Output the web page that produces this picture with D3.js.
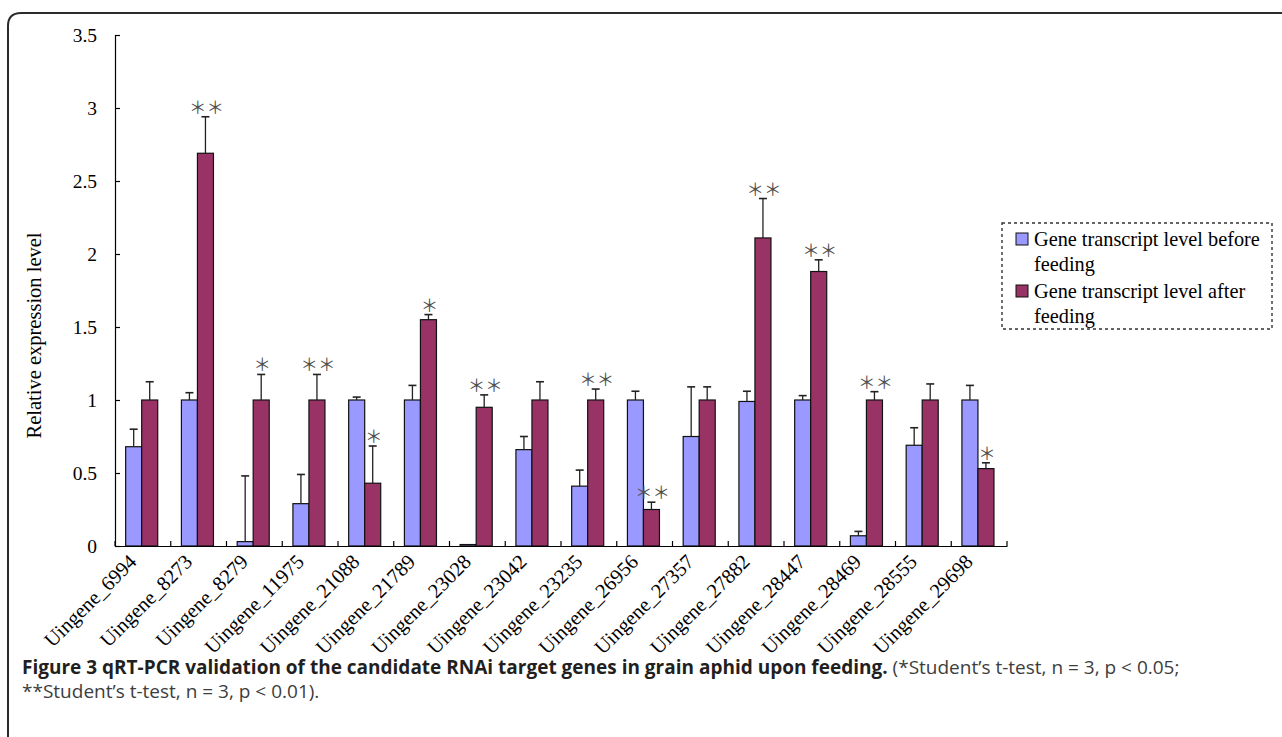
<!DOCTYPE html>
<html>
<head>
<meta charset="utf-8">
<script src="https://cdn.jsdelivr.net/npm/d3@7/dist/d3.min.js"></script>
<style>
  html, body { margin: 0; padding: 0; background: #fff; }
  svg { display: block; }
</style>
</head>
<body>
<svg id="chart" width="1282" height="737"></svg>
<script>
// ---------- data ----------
const categories = ["Uingene_6994","Uingene_8273","Uingene_8279","Uingene_11975","Uingene_21088","Uingene_21789","Uingene_23028","Uingene_23042","Uingene_23235","Uingene_26956","Uingene_27357","Uingene_27882","Uingene_28447","Uingene_28469","Uingene_28555","Uingene_29698"];
const seriesNames = ["Gene transcript level before feeding", "Gene transcript level after feeding"];
const before    = [0.68, 1.00, 0.03, 0.29, 1.00, 1.00, 0.01, 0.66, 0.41, 1.00, 0.75, 0.99, 1.00, 0.07, 0.69, 1.00];
const beforeErr = [0.12, 0.05, 0.45, 0.20, 0.02, 0.10, 0.00, 0.09, 0.11, 0.06, 0.34, 0.07, 0.03, 0.03, 0.12, 0.10];
const after     = [1.00, 2.69, 1.00, 1.00, 0.43, 1.55, 0.95, 1.00, 1.00, 0.25, 1.00, 2.11, 1.88, 1.00, 1.00, 0.53];
const afterErr  = [0.125,0.25, 0.175,0.175,0.255,0.035,0.085,0.125,0.075,0.05, 0.09, 0.27, 0.08, 0.057,0.11, 0.04];
const significance = ["", "**", "*", "**", "*", "*", "**", "", "**", "**", "", "**", "**", "**", "", "*"];
const yTicks = [0, 0.5, 1, 1.5, 2, 2.5, 3, 3.5];
const yTitle = "Relative expression level";
const legendLines = [["Gene transcript level before", "feeding"], ["Gene transcript level after", "feeding"]];
const captionBold = "Figure 3 qRT-PCR validation of the candidate RNAi target genes in grain aphid upon feeding.";
const captionNormal1 = " (*Student\u2019s t-test, n = 3, p < 0.05;";
const captionNormal2 = "**Student\u2019s t-test, n = 3, p < 0.01).";

// ---------- layout ----------
const colors = ["#9999FF", "#993366"];
const plot = { left: 115, right: 1007, top: 35, bottom: 546 };
const serif = "'Liberation Serif', 'Times New Roman', serif";

const svg = d3.select("#chart");

// frame
svg.append("path")
  .attr("d", "M8,740 L8,26 Q8,13 21,13 L1290,13")
  .attr("fill", "none").attr("stroke", "#2b2b2b").attr("stroke-width", 2);

const x = d3.scaleBand().domain(categories).range([plot.left, plot.right]).paddingInner(0).paddingOuter(0);
const xs = d3.scaleBand().domain([0, 1]).range([0, x.bandwidth()]).paddingInner(0).paddingOuter(0.74).align(0.45);
const y = d3.scaleLinear().domain([0, 3.5]).range([plot.bottom, plot.top]);

// y axis
const yAxis = d3.axisLeft(y).tickValues(yTicks).tickSize(-5).tickPadding(18)
  .tickFormat(d => String(d));
const gy = svg.append("g").attr("transform", `translate(${plot.left},0)`).call(yAxis);
gy.select(".domain").attr("stroke", "#000").attr("stroke-width", 1.2);
gy.selectAll(".tick line").attr("stroke", "#000").attr("stroke-width", 1.2);
gy.selectAll(".tick text").attr("font-family", serif).attr("font-size", 19.5).attr("fill", "#000");

// y title
svg.append("text")
  .attr("transform", `translate(41, ${(plot.top + plot.bottom) / 2 + 45}) rotate(-90)`)
  .attr("text-anchor", "middle")
  .attr("font-family", serif).attr("font-size", 20.5).attr("fill", "#000")
  .text(yTitle);

// bars
const series = [before, after];
const errs = [beforeErr, afterErr];
const groups = svg.append("g").selectAll("g").data(categories).join("g")
  .attr("transform", d => `translate(${x(d)},0)`);

[0, 1].forEach(s => {
  groups.append("rect")
    .attr("x", xs(s))
    .attr("width", xs.bandwidth())
    .attr("y", (d, i) => y(series[s][i]))
    .attr("height", (d, i) => y(0) - y(series[s][i]))
    .attr("fill", colors[s]).attr("stroke", "#111").attr("stroke-width", 1.2);
});

// error bars
[0, 1].forEach(s => {
  groups.each(function(d, i) {
    const e = errs[s][i];
    if (!e) return;
    const g = d3.select(this);
    const cx = xs(s) + xs.bandwidth() / 2;
    const top = y(series[s][i] + e);
    g.append("line").attr("x1", cx).attr("x2", cx)
      .attr("y1", y(series[s][i])).attr("y2", top)
      .attr("stroke", "#222").attr("stroke-width", 1.3);
    g.append("line").attr("x1", cx - 4).attr("x2", cx + 4)
      .attr("y1", top).attr("y2", top)
      .attr("stroke", "#222").attr("stroke-width", 1.6);
  });
});

// significance marks
groups.append("text")
  .attr("x", xs(1) + xs.bandwidth() / 2 + 1)
  .attr("y", (d, i) => y(after[i] + afterErr[i]) - 3)
  .attr("text-anchor", "middle")
  .attr("font-family", "'Noto Sans CJK SC', sans-serif")
  .attr("font-size", 17.5).attr("fill", "#505050")
  .text((d, i) => significance[i].replace(/\*/g, "\uFF0A"));

// x axis
const xAxis = d3.axisBottom(x).tickSize(0).tickFormat("");
const gx = svg.append("g").attr("transform", `translate(0,${plot.bottom})`).call(xAxis);
gx.select(".domain").attr("stroke", "#000").attr("stroke-width", 1.2);
// boundary ticks (inward)
const bounds = categories.map(c => x(c)).concat([plot.right]);
svg.append("g").selectAll("line").data(bounds).join("line")
  .attr("x1", d => d).attr("x2", d => d)
  .attr("y1", plot.bottom).attr("y2", plot.bottom - 5)
  .attr("stroke", "#000").attr("stroke-width", 1.2);

// x labels
svg.append("g").selectAll("text").data(categories).join("text")
  .attr("transform", d => `translate(${x(d) + x.bandwidth() / 2 - 5},${plot.bottom + 17}) rotate(-45)`)
  .attr("text-anchor", "end")
  .attr("font-family", serif).attr("font-size", 20.5).attr("fill", "#000")
  .text(d => d);

// legend
const lg = svg.append("g");
lg.append("rect").attr("x", 1002).attr("y", 223).attr("width", 270).attr("height", 106)
  .attr("fill", "#fff").attr("stroke", "#333").attr("stroke-width", 1.4).attr("stroke-dasharray", "3,3");
legendLines.forEach((lines, k) => {
  const top = 233 + k * 52;
  lg.append("rect").attr("x", 1016).attr("y", top).attr("width", 12).attr("height", 12)
    .attr("fill", colors[k]).attr("stroke", "#111").attr("stroke-width", 1);
  lines.forEach((t, j) => {
    lg.append("text").attr("x", 1034).attr("y", top + 13 + j * 25)
      .attr("font-family", serif).attr("font-size", 20.3).attr("fill", "#000").text(t);
  });
});

// caption
const cap = svg.append("text").attr("x", 22).attr("y", 674)
  .attr("font-family", "'Open Sans', sans-serif").attr("font-size", 19);
cap.append("tspan").attr("font-weight", "bold").attr("fill", "#231f20").text(captionBold);
cap.append("tspan").attr("fill", "#3d3d3d").text(captionNormal1);
svg.append("text").attr("x", 22).attr("y", 698)
  .attr("font-family", "'Open Sans', sans-serif").attr("font-size", 19).attr("fill", "#3d3d3d")
  .text(captionNormal2);
</script>
</body>
</html>
